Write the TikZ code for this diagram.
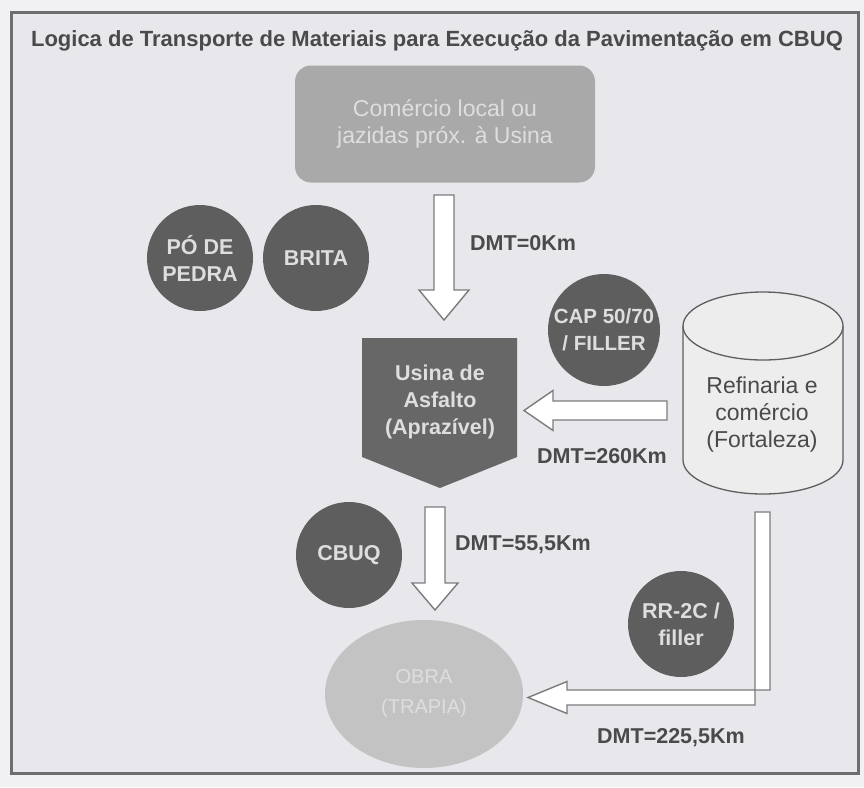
\documentclass[tikz,border=0pt]{standalone}
\usepackage{fontspec}
\setmainfont{Liberation Sans}
\usetikzlibrary{shapes.geometric}
\definecolor{bgout}{HTML}{F1F1F3}
\definecolor{bgin}{HTML}{E8E8EC}
\definecolor{framec}{HTML}{6E6E6E}
\definecolor{titlec}{HTML}{4A4A4A}
\definecolor{darkc}{HTML}{5E5E5E}
\definecolor{usinac}{HTML}{676767}
\definecolor{boxc}{HTML}{A9A9A9}
\definecolor{obrac}{HTML}{C3C3C3}
\definecolor{lighttext}{HTML}{DEDEDE}
\definecolor{cylc}{HTML}{EDEDED}
\definecolor{arrowline}{HTML}{7C7C7C}
\tikzset{
  matcircle/.style={circle, fill=darkc, draw=none, minimum size=106pt, inner sep=0pt,
    text=lighttext, align=center, font=\bfseries\fontsize{21.5}{27}\selectfont},
  blockarrow/.style={fill=white, draw=arrowline, line width=1.4pt, line join=miter},
  dmtlabel/.style={anchor=west, inner sep=0pt, text=titlec, font=\bfseries\fontsize{21.5}{24}\selectfont},
}
\begin{document}
\begin{tikzpicture}[x=1pt,y=-1pt]
\useasboundingbox (0,0) rectangle (864,787);
\fill[bgout] (0,0) rectangle (864,787);
\draw[framec, fill=bgin, line width=3pt] (11,12) rectangle (858,773);

\node[text=titlec, font=\bfseries\fontsize{22}{24}\selectfont, inner sep=0pt] (title) at (437,41)
  {Logica de Transporte de Materiais para Execução da Pavimentação em CBUQ};

% top box
\node[rounded corners=16pt, fill=boxc, minimum width=300pt, minimum height=117pt, inner sep=0pt,
  text=lighttext, align=center, font=\fontsize{23}{27}\selectfont] (comercio) at (445,124)
  {Comércio local ou\\jazidas próx. à Usina};

% circles
\node[matcircle] (po) at (200,258) {PÓ DE\\PEDRA};
\node[matcircle] (brita) at (316,258) {BRITA};
\node[matcircle, minimum size=112pt, font=\bfseries\fontsize{20.5}{27}\selectfont] (cap) at (604,330) {CAP 50/70\\/ FILLER};
\node[matcircle] (cbuq) at (349,555) {CBUQ};
\node[matcircle] (rr) at (681,624) {RR-2C /\\filler};

% usina
\fill[usinac] (362,338) -- (517,338) -- (517,457) -- (440,488) -- (362,457) -- cycle;
\node[text=lighttext, align=center, inner sep=0pt, font=\bfseries\fontsize{21.5}{27}\selectfont] (usina) at (440,402)
  {Usina de\\Asfalto\\(Aprazível)};

% cylinder
\draw[fill=cylc, draw=darkc, line width=1.3pt] (683,326) -- (683,460) arc[start angle=180, end angle=360, x radius=80pt, y radius=34pt] -- (843,326);
\draw[fill=cylc, draw=darkc, line width=1.3pt] (763,326) ellipse [x radius=80pt, y radius=34pt];
\node[text=titlec, align=center, inner sep=0pt, font=\fontsize{23}{27}\selectfont] (refinaria) at (762,415)
  {Refinaria e\\comércio\\(Fortaleza)};

% obra
\node[ellipse, fill=obrac, minimum width=198pt, minimum height=148pt, inner sep=0pt,
  text=lighttext, align=center, font=\fontsize{20}{30}\selectfont] (obra) at (424,694)
  {OBRA\\(TRAPIA)};

% named ends for the block arrows
\coordinate (a1s) at (444,195);
\coordinate (a1e) at (444,320);
\coordinate (a2s) at (667,410.5);
\coordinate (a2e) at (524,410.5);
\coordinate (a3s) at (435,507);
\coordinate (a3e) at (435,610);
\coordinate (a4s) at (762.5,512);
\coordinate (a4c) at (755,705);
\coordinate (a4e) at (528,697.5);

% arrow 1: comercio -> usina
\draw[blockarrow] ([xshift=-10pt]a1s) -- ([xshift=10pt]a1s) -- ([xshift=10pt,yshift=30pt]a1e)
  -- ([xshift=25pt,yshift=30pt]a1e) -- (a1e) -- ([xshift=-25pt,yshift=30pt]a1e)
  -- ([xshift=-10pt,yshift=30pt]a1e) -- cycle;
% arrow 2: refinaria -> usina
\draw[blockarrow] ([yshift=-9.5pt]a2s) -- ([yshift=9.5pt]a2s) -- ([xshift=29pt,yshift=9.5pt]a2e)
  -- ([xshift=29pt,yshift=20pt]a2e) -- (a2e) -- ([xshift=29pt,yshift=-20pt]a2e)
  -- ([xshift=29pt,yshift=-9.5pt]a2e) -- cycle;
% arrow 3: usina -> obra
\draw[blockarrow] ([xshift=-10pt]a3s) -- ([xshift=10pt]a3s) -- ([xshift=10pt,yshift=27pt]a3e)
  -- ([xshift=23pt,yshift=27pt]a3e) -- (a3e) -- ([xshift=-23pt,yshift=27pt]a3e)
  -- ([xshift=-10pt,yshift=27pt]a3e) -- cycle;
% arrow 4: refinaria -> obra (elbow)
\draw[blockarrow] ([xshift=-7.5pt]a4s) -- ([xshift=7.5pt]a4s) -- ([xshift=15pt,yshift=15pt]a4c)
  -- ([xshift=39pt,yshift=7.5pt]a4e)
  -- ([xshift=39pt,yshift=16pt]a4e) -- (a4e) -- ([xshift=39pt,yshift=-16pt]a4e)
  -- ([xshift=39pt,yshift=-7.5pt]a4e) -- (a4c) -- cycle;

% DMT labels
\node[dmtlabel] (d1) at (470,243) {DMT=0Km};
\node[dmtlabel] (d2) at (537,456) {DMT=260Km};
\node[dmtlabel] (d3) at (455,545) {DMT=55,5Km};
\node[dmtlabel] (d4) at (597,738) {DMT=225,5Km};
\end{tikzpicture}
\end{document}
